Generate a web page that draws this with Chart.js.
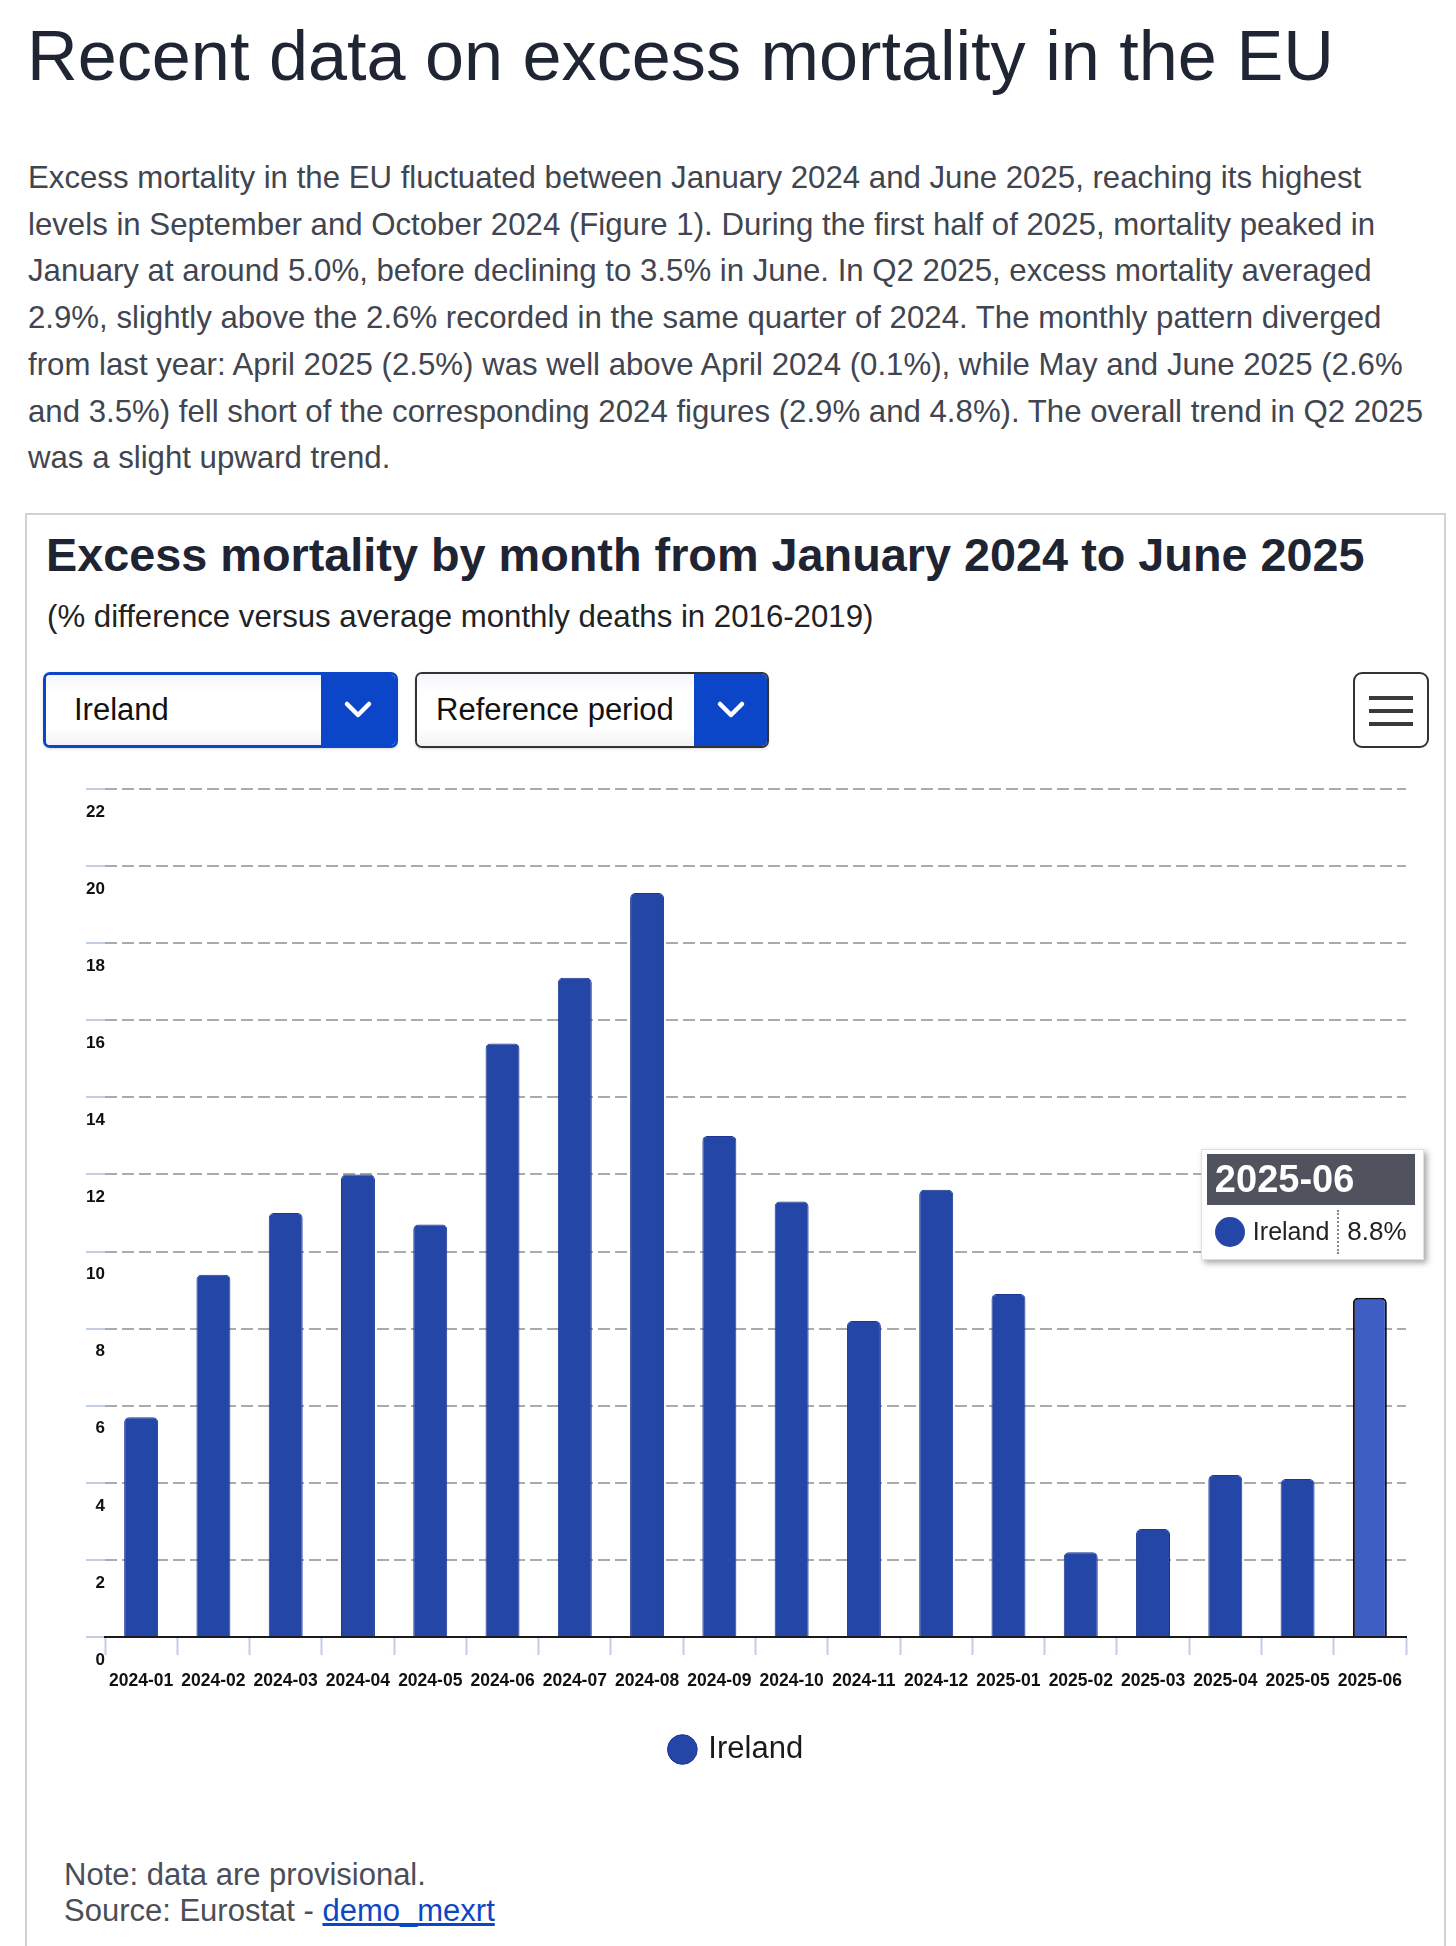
<!DOCTYPE html>
<html>
<head>
<meta charset="utf-8">
<script src="https://cdn.jsdelivr.net/npm/chart.js@4.4.1/dist/chart.umd.min.js"></script>
<style>
body { margin: 0; background: #fff; font-family: "Liberation Sans", Arial, Helvetica, sans-serif; }
#page { position: relative; width: 1456px; height: 1946px; overflow: hidden; }
.abs { position: absolute; white-space: nowrap; }

#h1 { left: 27px; top: 21px; font-size: 70.2px; line-height: 70px; color: #1f2533; }
#intro { left: 28px; top: 155px; font-size: 31.2px; line-height: 46.7px; color: #41454f; }

#box { left: 25px; top: 513px; width: 1421px; height: 1500px; border: 2px solid #d2d2d2; box-sizing: border-box; }
#ctitle { left: 46px; top: 527px; font-size: 46.8px; line-height: 56px; font-weight: bold; color: #1f2433; }
#csub { left: 47px; top: 598px; font-size: 31.2px; line-height: 38px; color: #222; }

.dd { top: 672px; height: 76px; box-sizing: border-box; border-radius: 7px; overflow: hidden; display: flex;
      box-shadow: 0 1px 3px rgba(0,0,0,0.15); }
.dd .txt { flex: 1; display: flex; align-items: center; font-size: 31px; color: #111;
           background: linear-gradient(#f4f5f8, #fff 25%, #fff 75%, #f2f2f4); }
.dd .arr { background: #0c46c8; display: flex; align-items: center; justify-content: center; }
#dd1 { left: 43px; width: 355px; border: 3px solid #0c46c8; }
#dd1 .txt { padding-left: 28px; }
#dd1 .arr { width: 74px; }
#dd2 { left: 415px; width: 354px; border: 2px solid #333; }
#dd2 .txt { padding-left: 19px; }
#dd2 .arr { width: 73px; }

#menu { left: 1353px; top: 672px; width: 76px; height: 76px; box-sizing: border-box; border: 2px solid #333; border-radius: 9px; }
#menu span { position: absolute; left: 14px; width: 44px; height: 4px; background: #3a3a3a; }

#wrap { left: 25px; top: 770px; width: 1421px; height: 1005px; }

#note { left: 64px; top: 1857px; font-size: 31px; line-height: 35.5px; color: #4b4e58; }
#note a { color: #0b47c4; text-decoration: underline; }

#tip { display: none; width: 223px; box-sizing: border-box; background: #fff; padding: 4px 8px 0 5px;
       border: 1px solid #e0e0e0; box-shadow: 3px 3px 6px rgba(0,0,0,0.35); }
#tip .tip-head { background: #50535e; color: #fff; font-weight: bold; font-size: 38px; line-height: 51px; padding-left: 8px; }
#tip .tip-row { display: flex; align-items: center; height: 54px; }
#tip .tip-dot { width: 30px; height: 30px; border-radius: 50%; background: #2446a6; margin: 0 8px 0 8px; }
#tip .tip-name { font-size: 25px; color: #222; padding-right: 8px; }
#tip .tip-sep { width: 0; height: 44px; border-left: 2px dotted #888; }
#tip .tip-val { font-size: 26px; color: #222; padding-left: 8px; }
</style>
</head>
<body>
<div id="page">
  <div id="h1" class="abs">Recent data on excess mortality in the EU</div>
  <div id="intro" class="abs">
    <div>Excess mortality in the EU fluctuated between January 2024 and June 2025, reaching its highest</div>
    <div>levels in September and October 2024 (Figure 1). During the first half of 2025, mortality peaked in</div>
    <div>January at around 5.0%, before declining to 3.5% in June. In Q2 2025, excess mortality averaged</div>
    <div>2.9%, slightly above the 2.6% recorded in the same quarter of 2024. The monthly pattern diverged</div>
    <div>from last year: April 2025 (2.5%) was well above April 2024 (0.1%), while May and June 2025 (2.6%</div>
    <div>and 3.5%) fell short of the corresponding 2024 figures (2.9% and 4.8%). The overall trend in Q2 2025</div>
    <div>was a slight upward trend.</div>
  </div>

  <div id="box" class="abs"></div>
  <div id="ctitle" class="abs">Excess mortality by month from January 2024 to June 2025</div>
  <div id="csub" class="abs">(% difference versus average monthly deaths in 2016-2019)</div>

  <div id="dd1" class="abs dd">
    <div class="txt">Ireland</div>
    <div class="arr"><svg width="30" height="20" viewBox="0 0 30 20"><polyline points="4,4 15,15 26,4" fill="none" stroke="#fff" stroke-width="4.5" stroke-linecap="round" stroke-linejoin="round"/></svg></div>
  </div>
  <div id="dd2" class="abs dd">
    <div class="txt">Reference period</div>
    <div class="arr"><svg width="30" height="20" viewBox="0 0 30 20"><polyline points="4,4 15,15 26,4" fill="none" stroke="#fff" stroke-width="4.5" stroke-linecap="round" stroke-linejoin="round"/></svg></div>
  </div>
  <div id="menu" class="abs">
    <span style="top:22px"></span><span style="top:35px"></span><span style="top:48px"></span>
  </div>

  <div id="wrap" class="abs"><canvas id="chart"></canvas></div>

  <div id="tip" class="abs">
    <div class="tip-head"></div>
    <div class="tip-row"><div class="tip-dot"></div><div class="tip-name"></div><div class="tip-sep"></div><div class="tip-val"></div></div>
  </div>

  <div id="note" class="abs">
    <div>Note: data are provisional.</div>
    <div>Source: Eurostat - <a href="#">demo_mexrt</a></div>
  </div>
</div>

<script>
// --- datos del gráfico ---
const months = ['2024-01', '2024-02', '2024-03', '2024-04', '2024-05', '2024-06',
                '2024-07', '2024-08', '2024-09', '2024-10', '2024-11', '2024-12',
                '2025-01', '2025-02', '2025-03', '2025-04', '2025-05', '2025-06'];
const countryName = 'Ireland';
const excessIreland = [5.7, 9.4, 11.0, 12.0, 10.7, 15.4, 17.1, 19.3, 13.0,
                       11.3, 8.2, 11.6, 8.9, 2.2, 2.8, 4.2, 4.1, 8.8];
const yMin = 0, yMax = 22, yStep = 2;
const highlightMonth = '2025-06';

Chart.defaults.font.family = '"Liberation Sans", Arial, Helvetica, sans-serif';

// tooltip en HTML (cabecera gris + fila con valor)
function htmlTooltip(context) {
    const { chart, tooltip } = context;
    const el = document.getElementById('tip');
    if (tooltip.opacity === 0 || !tooltip.dataPoints || !tooltip.dataPoints.length) {
        el.style.display = 'none';
        return;
    }
    const dp = tooltip.dataPoints[0];
    el.querySelector('.tip-head').textContent = tooltip.title[0];
    el.querySelector('.tip-name').textContent = dp.dataset.label;
    el.querySelector('.tip-val').textContent = dp.formattedValue + '%';
    el.style.display = 'block';
    const wrap = chart.canvas.parentNode;
    el.style.left = (wrap.offsetLeft + tooltip.caretX - 169) + 'px';
    el.style.top  = (wrap.offsetTop + tooltip.caretY - 149) + 'px';
}

const chart = new Chart(document.getElementById('chart'), {
    type: 'bar',
    data: {
        labels: months,
        datasets: [{
            label: countryName,
            data: excessIreland,
            backgroundColor: '#2446a6',
            borderColor: '#1b3693',
            borderWidth: 1,
            borderRadius: 5,
            hoverBackgroundColor: '#3f5ec3',
            hoverBorderColor: '#111',
            hoverBorderWidth: 2,
            categoryPercentage: 1,
            barPercentage: 0.47
        }]
    },
    options: {
        responsive: true,
        maintainAspectRatio: false,
        animation: false,
        events: [],
        layout: { padding: { left: 44, right: 40, top: 19, bottom: 0 } },
        scales: {
            x: {
                grid: { drawOnChartArea: false, drawTicks: true, tickLength: 18, tickColor: '#c3cde6', tickWidth: 2 },
                border: { display: true, color: '#1a1a1a', width: 2 },
                ticks: { color: '#111', font: { size: 17.5, weight: 'bold' }, padding: 16, maxRotation: 0, autoSkip: false }
            },
            y: {
                min: yMin,
                max: yMax,
                // ancho fijo: las etiquetas van alineadas a la derecha sobre las marcas
                afterFit: scale => { scale.width = 36; },
                grid: { color: '#ababab', lineWidth: 2, tickLength: 19, tickColor: '#c3cde6', tickWidth: 2 },
                border: { display: false, dash: [12, 5] },
                ticks: { stepSize: yStep, color: '#111', font: { size: 17, weight: 'bold' },
                         crossAlign: 'near', padding: -19, labelOffset: 23 }
            }
        },
        plugins: {
            legend: {
                position: 'bottom',
                labels: { usePointStyle: true, pointStyle: 'circle', boxWidth: 21, boxHeight: 21,
                          padding: 26, color: '#1a1a1a', font: { size: 31 } }
            },
            tooltip: { enabled: false, external: htmlTooltip }
        }
    }
});

// barra resaltada + tooltip activo, como en la captura
const idx = months.indexOf(highlightMonth);
chart.setActiveElements([{ datasetIndex: 0, index: idx }]);
chart.update('none');
chart.tooltip.setActiveElements([{ datasetIndex: 0, index: idx }], { x: 0, y: 0 });
chart.render();
</script>
</body>
</html>
